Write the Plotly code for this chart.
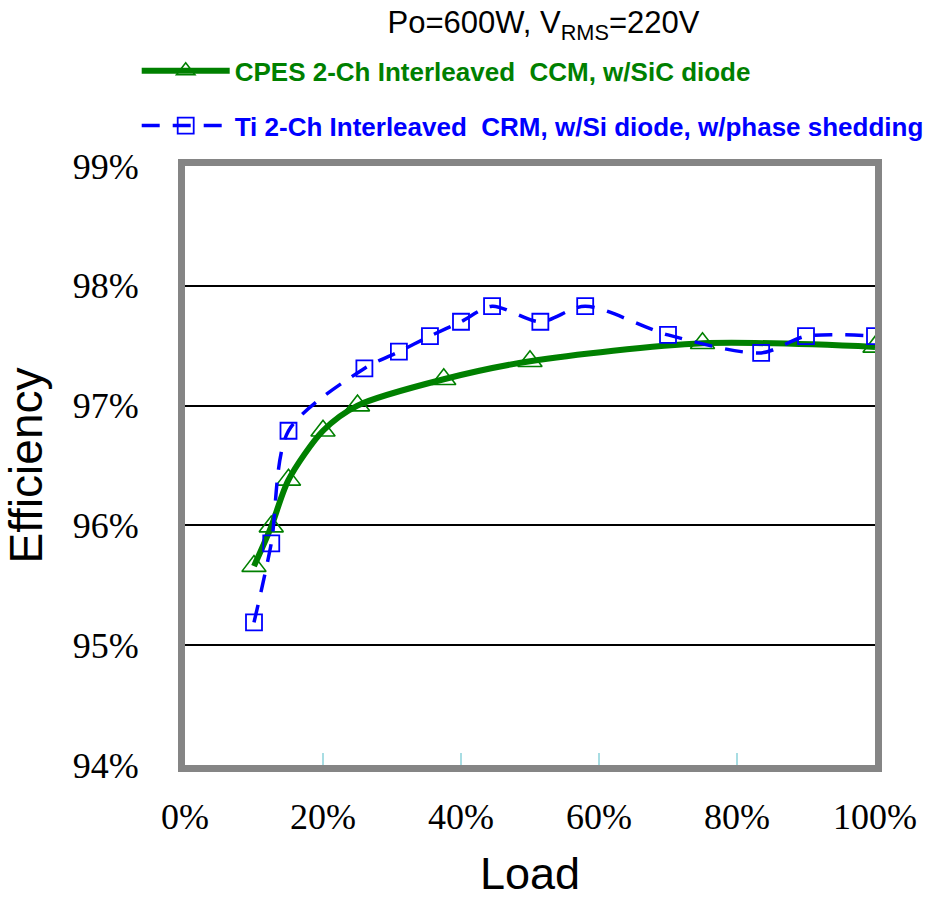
import plotly.graph_objects as go

# Data (load %, efficiency %)
cpes_load = [10, 12.5, 15, 20, 25, 37.5, 50, 75, 100]
cpes_eff = [95.66, 95.99, 96.38, 96.79, 97.00, 97.22, 97.37, 97.52, 97.49]

ti_load = [10, 12.5, 15, 26, 31, 35.5, 40, 44.5, 51.5, 58, 70, 83.5, 90, 100]
ti_eff = [95.19, 95.85, 96.79, 97.31, 97.45, 97.58, 97.70, 97.83, 97.70, 97.83, 97.59, 97.44, 97.58, 97.58]

x_ticks = [0, 20, 40, 60, 80, 100]
y_ticks = [94, 95, 96, 97, 98, 99]

name_cpes = "CPES 2-Ch Interleaved\u00a0 CCM, w/SiC diode"
name_ti = "Ti 2-Ch Interleaved\u00a0 CRM, w/Si diode, w/phase shedding"

fig = go.Figure()
fig.add_trace(go.Scatter(
    x=cpes_load, y=cpes_eff, mode="lines+markers", legendgroup="a",
    name="<span style='color:#008000'><b>" + name_cpes + "</b></span>",
    line=dict(color="#008000", width=6, shape="spline", smoothing=0.8),
    marker=dict(symbol="triangle-up-open", size=21, color="#008000",
                line=dict(width=1.6, color="#008000")),
))
fig.add_trace(go.Scatter(
    x=ti_load, y=ti_eff, mode="lines+markers", legendgroup="b",
    name="<span style='color:#0000FF'><b>" + name_ti + "</b></span>",
    line=dict(color="#0000FF", width=3.5, dash="18px,13px", shape="spline", smoothing=0.8),
    marker=dict(symbol="square-open", size=16, color="#0000FF",
                line=dict(width=1.8, color="#0000FF")),
))

fig.update_layout(
    width=929, height=905,
    margin=dict(l=185, r=44, t=166, b=137),
    paper_bgcolor="white", plot_bgcolor="white",
    showlegend=True,
    legend=dict(x=-0.07, y=1.198, xanchor="left", yanchor="top",
                font=dict(family="Liberation Sans, Arial", size=26),
                tracegroupgap=18, itemwidth=88, bgcolor="rgba(0,0,0,0)"),
    title=dict(text="Po=600W, V<sub>RMS</sub>=220V", x=0.585, xanchor="center",
               y=0.975, yanchor="middle",
               font=dict(family="Liberation Sans, Arial", size=31, color="black")),
    xaxis=dict(range=[0, 100], tickvals=x_ticks,
               ticktext=[f"{v}%" for v in x_ticks],
               ticks="inside", ticklen=12, tickcolor="#A8DDE3", tickwidth=1.5,
               showgrid=False, zeroline=False,
               showline=True, mirror=True, linecolor="#858585", linewidth=7,
               tickfont=dict(family="Liberation Serif, Times New Roman", size=36, color="black"),
               ticklabelstandoff=14,
               title=dict(text="Load", font=dict(family="Liberation Sans, Arial", size=45, color="black"),
                          standoff=24)),
    yaxis=dict(range=[94, 99], tickvals=y_ticks,
               ticktext=[f"{v}%" for v in y_ticks],
               ticks="inside", ticklen=14, tickcolor="black", tickwidth=2,
               showgrid=True, gridcolor="black", gridwidth=1.5,
               zeroline=False,
               showline=True, mirror=True, linecolor="#858585", linewidth=7,
               tickfont=dict(family="Liberation Serif, Times New Roman", size=36, color="black"),
               ticklabelstandoff=32,
               title=dict(text="Efficiency", font=dict(family="Liberation Sans, Arial", size=46, color="black"),
                          standoff=24)),
)

fig.write_html("out.html")
